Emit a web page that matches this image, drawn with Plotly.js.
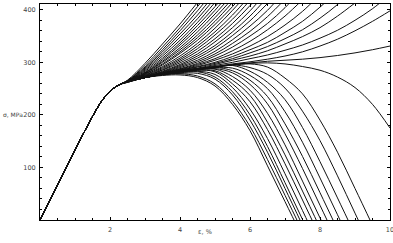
<!DOCTYPE html>
<html>
<head>
<meta charset="utf-8">
<script src="https://cdn.plot.ly/plotly-3.0.1.min.js"></script>
<style>html,body{margin:0;padding:0;background:#fff;}#chart{width:393px;height:243px;}</style>
</head>
<body>
<div id="chart"></div>
<script>
// shared loading branch
const baseX = [0, 0.5, 1, 1.5, 1.75, 2, 2.25];
const baseY = [0, 66, 133, 197, 225, 245, 257];
// strain grid for the branching part
const tailX = [2.5, 3, 3.5, 4, 4.5, 5, 5.5, 6, 6.5, 7, 7.5, 8, 8.5, 9, 9.5, 10];

// curves that keep rising (stress values on tailX)
const U0 = [266, 298, 335, 373, 414];
const U1 = [265, 294, 329, 366, 406, 448];
const U2 = [265, 291, 324, 360, 398, 439];
const U3 = [264, 289, 320, 354, 390, 431];
const U4 = [264, 287, 316, 348, 383, 422];
const U5 = [264, 285, 312, 342, 376, 414];
const U6 = [264, 283, 308, 337, 370, 406, 446];
const U7 = [264, 281, 305, 333, 364, 399, 438];
const U8 = [264, 280, 302, 328, 358, 392, 429];
const U9 = [263, 279, 300, 324, 352, 385, 421];
const U10 = [263, 278, 297, 320, 347, 378, 414];
const U11 = [263, 277, 295, 317, 342, 372, 406, 444];
const U12 = [263, 276, 292, 312, 336, 365, 399, 436];
const U13 = [263, 275, 290, 308, 331, 358, 390, 427];
const U14 = [263, 274, 288, 305, 326, 352, 382, 418];
const U15 = [263, 273, 286, 302, 321, 345, 374, 408, 447];
const U16 = [263, 273, 285, 299, 316, 339, 366, 398, 436];
const U17 = [263, 272, 283, 296, 312, 332, 358, 388, 424];
const U18 = [263, 272, 282, 294, 308, 327, 351, 379, 412];
const U19 = [263, 272, 281, 292, 304, 321, 343, 369, 399, 436];
const U20 = [263, 271, 280, 290, 301, 316, 336, 359, 387, 420];
const U21 = [263, 271, 280, 288, 298, 312, 329, 350, 374, 404, 439];
const U22 = [263, 271, 279, 287, 296, 307, 322, 340, 362, 388, 419];
const U23 = [263, 271, 279, 286, 294, 304, 316, 331, 349, 371, 397, 429];
const U24 = [263, 271, 279, 285, 292, 300, 311, 324, 338, 357, 378, 405, 436];
const U25 = [263, 271, 278, 285, 291, 298, 307, 318, 330, 345, 362, 384, 410, 442];
const U26 = [263, 271, 278, 284, 289, 296, 304, 312, 322, 335, 349, 366, 388, 413];
const U27 = [263, 271, 278, 284, 288, 294, 300, 307, 314, 323, 333, 346, 361, 380, 402, 429];
const U28 = [263, 271, 278, 284, 288, 292, 297, 301, 306, 312, 320, 331, 344, 360, 378, 398];
const U29 = [263, 271, 278, 284, 288, 292, 296, 299, 302, 304, 306, 309, 313, 318, 324, 331];

// curves that soften and fall (stress values on tailX)
const L0 = [262, 271, 275, 276, 271, 255, 220, 170, 103, 35, -33];
const L1 = [262, 271, 276, 278, 274, 259, 226, 178, 115, 47, -22];
const L2 = [262, 271, 277, 279, 279, 268, 238, 190, 129, 60, -10];
const L3 = [263, 271, 277, 280, 282, 272, 244, 200, 140, 71, 1, -68];
const L4 = [263, 271, 277, 281, 283, 277, 252, 211, 155, 88, 18, -52];
const L5 = [263, 271, 277, 282, 285, 282, 259, 225, 172, 107, 38, -32];
const L6 = [263, 271, 277, 282, 285, 284, 266, 237, 186, 124, 55, -15];
const L7 = [263, 271, 277, 282, 286, 287, 273, 247, 203, 143, 74, 4, -66];
const L8 = [263, 271, 278, 283, 286, 288, 280, 258, 221, 164, 98, 28, -42];
const L9 = [263, 271, 278, 283, 286, 290, 284, 266, 235, 183, 121, 52, -18];
const L10 = [263, 271, 278, 283, 287, 290, 289, 275, 250, 206, 148, 80, 10, -60];
const L11 = [263, 271, 278, 283, 287, 291, 294, 283, 262, 229, 176, 111, 42, -28];
const L12 = [263, 271, 278, 283, 287, 291, 295, 290, 277, 251, 207, 151, 84, 13, -57];
const L13 = [263, 271, 278, 283, 287, 291, 295, 297, 291, 270, 240, 190, 129, 60, -10];
const L14 = [263, 271, 278, 283, 287, 291, 295, 298, 299, 297, 292, 285, 272, 252, 220, 175];

const xTickVals = [2, 4, 6, 8, 10];
const xTickText = ['2', '4', '6', '8', '10'];
const yTickVals = [100, 200, 300, 400];
const yTickText = ['100', '200', '300', '400'];
const xTitle = 'ε, %';
const yTitle = 'σ, MPa';

const curves = [U0,U1,U2,U3,U4,U5,U6,U7,U8,U9,U10,U11,U12,U13,U14,U15,U16,U17,U18,U19,
  U20,U21,U22,U23,U24,U25,U26,U27,U28,U29,
  L0,L1,L2,L3,L4,L5,L6,L7,L8,L9,L10,L11,L12,L13,L14];

const traces = curves.map(c => ({
  x: baseX.concat(tailX.slice(0, c.length)),
  y: baseY.concat(c),
  type: 'scatter',
  mode: 'lines',
  line: {color: '#111', width: 1, shape: 'spline', smoothing: 1},
  hoverinfo: 'skip',
  showlegend: false
}));

const fontFam = 'DejaVu Sans, Arial, sans-serif';
const tickFont = {family: fontFam, size: 6.5, color: '#444'};

const layout = {
  width: 393, height: 243,
  margin: {l: 40, r: 3, t: 4, b: 23, pad: 0},
  paper_bgcolor: '#fff', plot_bgcolor: '#fff',
  showlegend: false,
  xaxis: {
    range: [0, 10], showgrid: false, zeroline: false,
    showline: true, linecolor: '#000', linewidth: 1, mirror: 'allticks',
    ticks: 'inside', ticklen: 3, tickcolor: '#000',
    tickvals: xTickVals, ticktext: xTickText, tickfont: tickFont,
    ticklabelstandoff: 3, ticklabeloverflow: 'allow',
    minor: {dtick: 0.5, tick0: 0, ticks: 'inside', ticklen: 2, tickcolor: '#000', showgrid: false}
  },
  yaxis: {
    range: [0, 411], showgrid: false, zeroline: false,
    showline: true, linecolor: '#000', linewidth: 1, mirror: 'allticks',
    ticks: 'inside', ticklen: 3, tickcolor: '#000',
    tickvals: yTickVals, ticktext: yTickText, tickfont: tickFont,
    ticklabelstandoff: 2,
    minor: {dtick: 20, tick0: 0, ticks: 'inside', ticklen: 2, tickcolor: '#000', showgrid: false}
  },
  annotations: [
    {text: xTitle, xref: 'paper', yref: 'paper', x: 0.47, y: -0.03, xanchor: 'center', yanchor: 'top',
     showarrow: false, font: {family: fontFam, size: 6.5, color: '#444'}},
    {text: yTitle, xref: 'paper', yref: 'y', x: -0.112, y: 200, xanchor: 'left', yanchor: 'middle',
     showarrow: false, font: {family: fontFam, size: 6, color: '#444'}}
  ]
};

Plotly.newPlot('chart', traces, layout, {staticPlot: true, displayModeBar: false});
</script>
</body>
</html>
